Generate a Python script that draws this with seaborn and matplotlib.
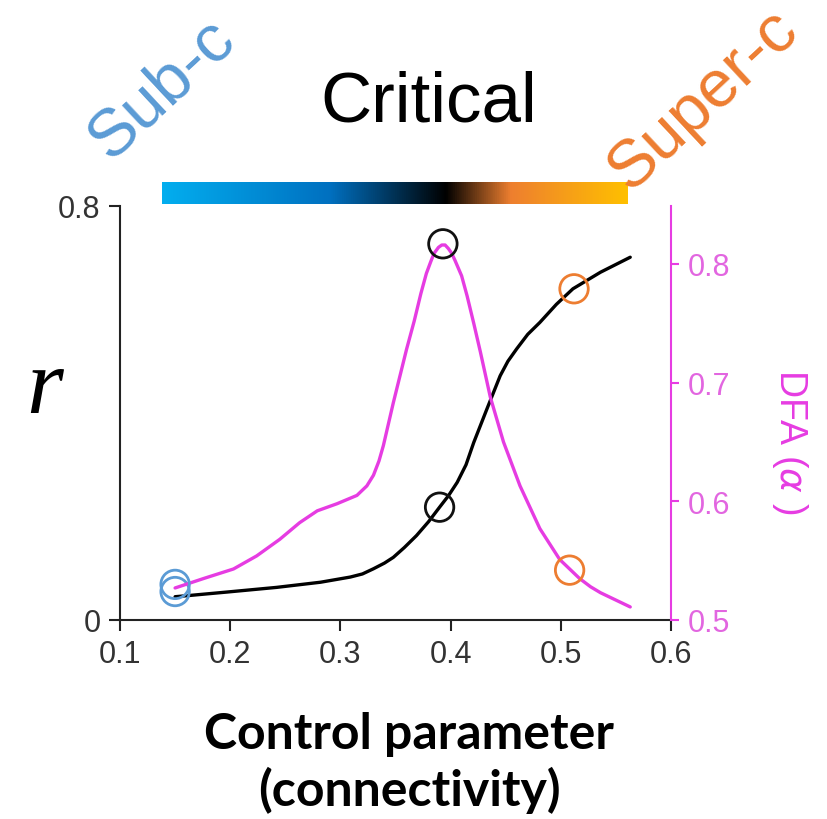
import numpy as np
import pandas as pd
import matplotlib
matplotlib.use("Agg")
import matplotlib.pyplot as plt
from matplotlib.colors import LinearSegmentedColormap
import seaborn as sns

# Order parameter r versus connectivity
ctrl_r = [0.150, 0.161, 0.197, 0.242, 0.282, 0.309, 0.320, 0.330, 0.340, 0.348,
          0.358, 0.369, 0.380, 0.390, 0.398, 0.406, 0.414, 0.421, 0.433, 0.445,
          0.452, 0.460, 0.470, 0.481, 0.496, 0.511, 0.536, 0.563]
r_vals = [0.045, 0.047, 0.054, 0.063, 0.073, 0.083, 0.089, 0.099, 0.110, 0.121,
          0.140, 0.163, 0.190, 0.218, 0.240, 0.266, 0.300, 0.343, 0.408, 0.472,
          0.500, 0.524, 0.552, 0.575, 0.610, 0.640, 0.672, 0.701]

# DFA exponent versus connectivity
ctrl_dfa = [0.150, 0.176, 0.203, 0.224, 0.245, 0.263, 0.279, 0.297, 0.315, 0.324,
            0.330, 0.335, 0.339, 0.348, 0.360, 0.367, 0.373, 0.378, 0.382, 0.385,
            0.389, 0.392, 0.395, 0.398, 0.401, 0.404, 0.410, 0.415, 0.421, 0.427,
            0.436, 0.448, 0.463, 0.481, 0.499, 0.517, 0.527, 0.536, 0.563]
dfa_vals = [0.527, 0.535, 0.543, 0.554, 0.568, 0.582, 0.592, 0.598, 0.605, 0.613,
            0.622, 0.634, 0.647, 0.683, 0.728, 0.752, 0.775, 0.792, 0.802, 0.809,
            0.814, 0.816, 0.816, 0.813, 0.809, 0.803, 0.790, 0.773, 0.750, 0.726,
            0.688, 0.650, 0.613, 0.577, 0.551, 0.535, 0.528, 0.523, 0.511]

# Highlighted regimes (sub-critical, critical, super-critical)
regimes = ["sub", "crit", "super"]
mark_x_r = [0.150, 0.390, 0.512]
mark_r = [0.055, 0.218, 0.640]
mark_x_dfa = [0.150, 0.393, 0.508]
mark_dfa = [0.530, 0.817, 0.542]

x_ticks = [0.1, 0.2, 0.3, 0.4, 0.5, 0.6]
r_ticks = [0, 0.8]
dfa_ticks = [0.5, 0.6, 0.7, 0.8]

BLUE = "#5b9bd5"
ORANGE = "#ed7d31"
MAGENTA = "#e63ce2"
MAG_TEXT = "#e266e0"
INK = "#222222"
regime_colors = {"sub": BLUE, "crit": "#111111", "super": ORANGE}

sns.set_theme(style="white")
plt.rcParams["font.family"] = ["Liberation Sans", "DejaVu Sans"]

W, H = 828, 820
fig = plt.figure(figsize=(W / 100, H / 100), dpi=100)

x0, x1, y0, y1 = 120, 671, 207, 621
ax = fig.add_axes([x0 / W, 1 - y1 / H, (x1 - x0) / W, (y1 - y0) / H])
ax.set_facecolor("none")
ax2 = ax.twinx()

df_r = pd.DataFrame({"c": ctrl_r, "r": r_vals})
df_dfa = pd.DataFrame({"c": ctrl_dfa, "dfa": dfa_vals})
sns.lineplot(data=df_r, x="c", y="r", ax=ax, color="black", linewidth=2.4,
             sort=False, solid_joinstyle="round", solid_capstyle="round")
sns.lineplot(data=df_dfa, x="c", y="dfa", ax=ax2, color=MAGENTA, linewidth=2.4,
             sort=False, solid_joinstyle="round", solid_capstyle="round")


def rings(axis, xs, ys):
    d = pd.DataFrame({"c": xs, "v": ys, "regime": regimes})
    sns.scatterplot(data=d, x="c", y="v", hue="regime", palette=regime_colors,
                    ax=axis, s=420, linewidth=2.0, legend=False, zorder=5)
    coll = axis.collections[-1]
    coll.set_edgecolors(coll.get_facecolors())
    coll.set_facecolors("none")


rings(ax, mark_x_r, mark_r)
rings(ax2, mark_x_dfa, mark_dfa)

ax.set_xlim(0.1, 0.6)
ax.set_ylim(0, 0.8)
ax2.set_ylim(0.5, 0.5 + (y1 - y0) / 1186.7)

ax.set_xticks(x_ticks)
ax.set_xticklabels([f"{t:g}" for t in x_ticks])
ax.set_yticks(r_ticks)
ax.set_yticklabels(["0", "0.8"])
ax2.set_yticks(dfa_ticks)
ax2.set_yticklabels([f"{t:g}" for t in dfa_ticks])

ax.set_xlabel("")
ax.set_ylabel("")
ax2.set_ylabel("")

for s in ["top", "right"]:
    ax.spines[s].set_visible(False)
for s in ["top", "left", "bottom"]:
    ax2.spines[s].set_visible(False)
for s in ["left", "bottom"]:
    ax.spines[s].set_color(INK)
    ax.spines[s].set_linewidth(1.5)
ax2.spines["right"].set_color(MAGENTA)
ax2.spines["right"].set_linewidth(1.5)

ax.tick_params(axis="x", direction="out", length=8, width=1.5, color=INK,
               labelsize=22, labelcolor="#333333", pad=6, bottom=True)
ax.tick_params(axis="y", direction="out", length=8, width=1.5, color=INK,
               labelsize=22, labelcolor="#333333", pad=6, left=True)
ax2.tick_params(axis="y", direction="out", length=6, width=1.5, color=MAGENTA,
                labelsize=22, labelcolor=MAG_TEXT, pad=6, right=True)

# Gradient bar spanning the regimes
cmap = LinearSegmentedColormap.from_list(
    "regime", [(0.0, "#03aeef"), (0.36, "#0070c0"), (0.61, "#000000"),
               (0.75, "#ee7f2f"), (1.0, "#ffc000")])
bx0, bx1, by0, by1 = 162, 628, 183, 205
cax = fig.add_axes([bx0 / W, 1 - by1 / H, (bx1 - bx0) / W, (by1 - by0) / H])
cax.imshow(np.linspace(0, 1, 512)[None, :], cmap=cmap, aspect="auto")
cax.set_axis_off()

fig.text(429 / W, 1 - 104 / H, "Critical", fontsize=51, color="black",
         ha="center", va="center")
fig.text(162 / W, 1 - 90 / H, "Sub-c", fontsize=48, color=BLUE,
         ha="center", va="center", rotation=43, rotation_mode="anchor")
fig.text(703 / W, 1 - 101 / H, "Super-c", fontsize=48, color=ORANGE,
         ha="center", va="center", rotation=43, rotation_mode="anchor")

fig.text(45 / W, 1 - 413 / H, "r", fontsize=68, family="Liberation Serif",
         style="italic", ha="center", va="baseline", color="black")
fig.text(790 / W, 1 - 442 / H, "DFA ($\\alpha$ )", fontsize=27, color=MAGENTA,
         ha="center", va="center", rotation=270)

fig.text(409 / W, 1 - 763 / H, "Control parameter\n(connectivity)", fontsize=36,
         family=["Lato", "DejaVu Sans"], fontweight="bold", ha="center",
         va="center", linespacing=1.25, color="black")

fig.savefig("out.png", dpi=100)
